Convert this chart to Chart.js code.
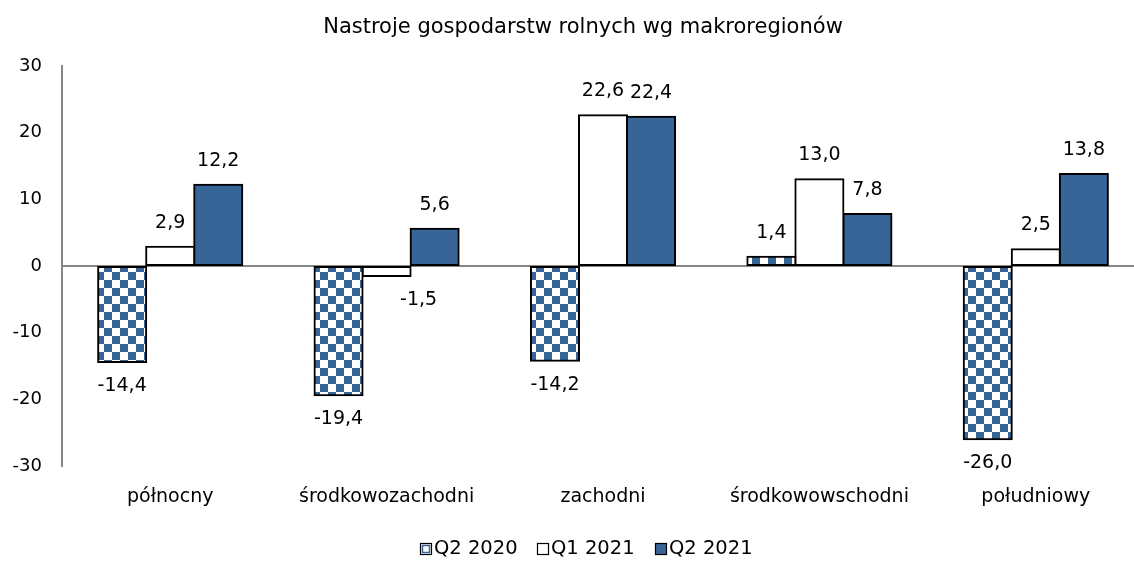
<!DOCTYPE html>
<html>
<head>
<meta charset="utf-8">
<script src="https://cdn.jsdelivr.net/npm/chart.js@4/dist/chart.umd.min.js"></script>
<style>
  html, body { margin: 0; padding: 0; background: #fff; overflow: hidden; }
  #wrap { width: 1134px; height: 562px; overflow: hidden; position: relative; }
  canvas { display: block; }
</style>
</head>
<body>
<div id="wrap"><canvas id="c" width="1144" height="562"></canvas></div>
<script>
const categories = ['północny', 'środkowozachodni', 'zachodni', 'środkowowschodni', 'południowy'];
const seriesNames = ['Q2 2020', 'Q1 2021', 'Q2 2021'];
const q2_2020 = [-14.4, -19.4, -14.2, 1.4, -26.0];
const q1_2021 = [2.9, -1.5, 22.6, 13.0, 2.5];
const q2_2021 = [12.2, 5.6, 22.4, 7.8, 13.8];
const yTicks = [-30, -20, -10, 0, 10, 20, 30];
const titleText = 'Nastroje gospodarstw rolnych wg makroregionów';

const FONT = '"DejaVu Sans", Verdana, sans-serif';
const BLUE = '#386597';

function makeChecker() {
  const c = document.createElement('canvas');
  c.width = 16; c.height = 16;
  const g = c.getContext('2d');
  g.fillStyle = '#ffffff'; g.fillRect(0, 0, 16, 16);
  g.fillStyle = BLUE;
  g.fillRect(0, 0, 8, 8);
  g.fillRect(8, 8, 8, 8);
  return document.getElementById('c').getContext('2d').createPattern(c, 'repeat');
}
const checker = makeChecker();

const fmt = v => v.toFixed(1).replace('.', ',');

const labelsPlugin = {
  id: 'barLabels',
  afterDatasetsDraw(chart) {
    const ctx = chart.ctx;
    ctx.save();
    ctx.font = '19px ' + FONT;
    ctx.fillStyle = '#000';
    ctx.textAlign = 'center';
    ctx.textBaseline = 'middle';
    chart.data.datasets.forEach((ds, di) => {
      const meta = chart.getDatasetMeta(di);
      meta.data.forEach((bar, i) => {
        const v = ds.data[i];
        let x = bar.x;
        if (di === 1 && i === 1) x += 32;
        const y = v >= 0 ? bar.y - 24 : bar.y + 24;
        ctx.fillText(fmt(v), x, y);
      });
    });
    ctx.restore();
  }
};

const decorPlugin = {
  id: 'decor',
  afterDraw(chart) {
    const ctx = chart.ctx;
    ctx.save();
    ctx.font = '21px ' + FONT;
    ctx.fillStyle = '#000';
    ctx.textAlign = 'center';
    ctx.textBaseline = 'middle';
    ctx.fillText(titleText, 583, 28);
    // legend
    ctx.font = '19.5px ' + FONT;
    const fills = [null, '#ffffff', BLUE];
    const xs = [420, 537, 655];
    ctx.textAlign = 'left';
    seriesNames.forEach((name, i) => {
      const bx = xs[i], by = 543, s = 12;
      if (i === 0) {
        ctx.fillStyle = '#fff'; ctx.fillRect(bx, by, s, s);
        ctx.strokeStyle = BLUE; ctx.lineWidth = 1.5; ctx.strokeRect(bx + 2.5, by + 2.5, s - 5, s - 5);
      } else {
        ctx.fillStyle = fills[i]; ctx.fillRect(bx, by, s, s);
      }
      ctx.strokeStyle = '#000'; ctx.lineWidth = 1.2; ctx.strokeRect(bx + 0.5, by + 0.5, s - 1, s - 1);
      ctx.fillStyle = '#000';
      ctx.fillText(name, bx + 14, 549);
    });
    ctx.restore();
  }
};

new Chart(document.getElementById('c'), {
  type: 'bar',
  data: {
    labels: categories,
    datasets: [
      { label: seriesNames[0], data: q2_2020, backgroundColor: checker, borderColor: '#000', borderWidth: 2, borderSkipped: false, inflateAmount: 1 },
      { label: seriesNames[1], data: q1_2021, backgroundColor: '#ffffff', borderColor: '#000', borderWidth: 2, borderSkipped: false, inflateAmount: 1 },
      { label: seriesNames[2], data: q2_2021, backgroundColor: BLUE, borderColor: '#000', borderWidth: 2, borderSkipped: false, inflateAmount: 1 }
    ]
  },
  options: {
    responsive: false,
    animation: false,
    layout: { padding: { top: 66, left: 0, right: 0, bottom: 0 } },
    plugins: { legend: { display: false }, title: { display: false }, tooltip: { enabled: false } },
    datasets: { bar: { categoryPercentage: 0.666, barPercentage: 1.0 } },
    scales: {
      x: {
        grid: { display: false, drawTicks: false },
        border: { display: false },
        ticks: { font: { family: FONT, size: 19 }, color: '#000', padding: 20, maxRotation: 0, autoSkip: false },
        afterFit: s => { s.height = 96; }
      },
      y: {
        min: -30, max: 30,
        afterBuildTicks: s => { s.ticks = yTicks.map(v => ({ value: v })); },
        grid: { drawTicks: false, color: c => (c.tick && c.tick.value === 0 ? '#868686' : 'transparent'), lineWidth: 2 },
        border: { display: true, color: '#868686', width: 2 },
        ticks: { font: { family: FONT, size: 18 }, color: '#000', padding: 20, callback: v => String(v) },
        afterFit: s => { s.width = 62; }
      }
    }
  },
  plugins: [labelsPlugin, decorPlugin]
});
</script>
</body>
</html>
